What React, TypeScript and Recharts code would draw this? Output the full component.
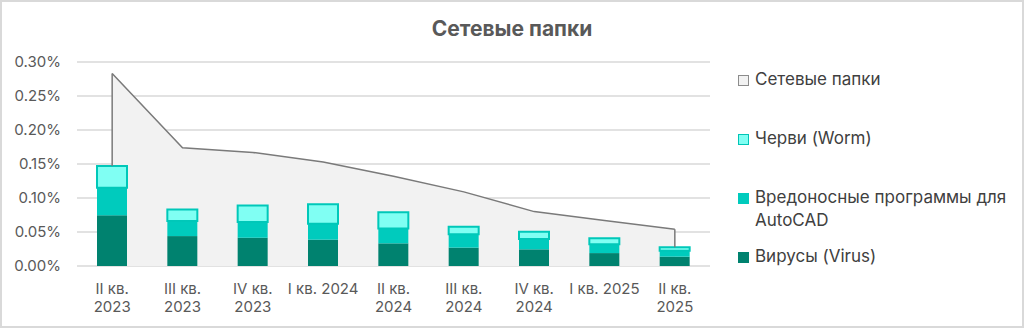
import * as React from "react";
import {
  Area,
  Bar,
  CartesianGrid,
  ComposedChart,
  ReferenceLine,
  XAxis,
  YAxis
} from "recharts";

const quarters = [
  "II кв.\n2023",
  "III кв.\n2023",
  "IV кв.\n2023",
  "I кв. 2024",
  "II кв.\n2024",
  "III кв.\n2024",
  "IV кв.\n2024",
  "I кв. 2025",
  "II кв.\n2025"
];
// values in percent
const networkFolders = [0.283, 0.174, 0.167, 0.153, 0.132, 0.109, 0.08, 0.067, 0.054];
const viruses = [0.0745, 0.044, 0.0417, 0.0387, 0.0333, 0.027, 0.0245, 0.019, 0.0137];
const autocad = [0.0406, 0.022, 0.023, 0.0235, 0.022, 0.0197, 0.0152, 0.0129, 0.0088];
const worms = [0.032, 0.017, 0.0243, 0.0285, 0.0236, 0.0112, 0.0108, 0.0088, 0.005];
const yTicks = [0, 0.05, 0.1, 0.15, 0.2, 0.25, 0.3];

const legendItems = [
  { name: "Сетевые папки", fill: "#f2f2f2", border: "#8c8c8c" },
  { name: "Черви (Worm)", fill: "#80fff3", border: "#00c5b6" },
  { name: "Вредоносные программы для AutoCAD", fill: "#00cbbd", border: "#00cbbd" },
  { name: "Вирусы (Virus)", fill: "#00826f", border: "#00826f" }
];

const font = "Inter, 'Noto Sans', sans-serif";

const data = quarters.map((quarter, i) => ({
  quarter,
  network: networkFolders[i],
  virus: viruses[i],
  autocad: autocad[i],
  worm: worms[i]
}));

const stackTop = (i: number) => viruses[i] + autocad[i] + worms[i];
const last = quarters.length - 1;

function QuarterTick({ x, y, payload }: any) {
  const lines = String(payload.value).split("\n");
  return (
    <text x={x} y={y} textAnchor="middle" fill="#595959" fontSize={15} fontFamily={font}>
      {lines.map((line, i) => (
        <tspan key={i} x={x} dy={i === 0 ? 16 : 18}>
          {line}
        </tspan>
      ))}
    </text>
  );
}

function SideLegend() {
  return (
    <div
      style={{
        position: "absolute",
        left: 738,
        top: 68,
        fontFamily: font,
        fontSize: 17,
        color: "#404040",
        lineHeight: "23px"
      }}
    >
      {legendItems.map((item) => (
        <div key={item.name} style={{ display: "flex", alignItems: "flex-start", height: 59 }}>
          <span
            style={{
              width: 9,
              height: 9,
              marginTop: 7,
              marginRight: 6,
              flex: "none",
              background: item.fill,
              border: `1px solid ${item.border}`
            }}
          />
          <span style={{ width: 268 }}>{item.name}</span>
        </div>
      ))}
    </div>
  );
}

export default function App() {
  return (
    <div
      style={{
        position: "fixed",
        left: 0,
        top: 0,
        width: 1024,
        height: 328,
        background: "#fff",
        fontFamily: font
      }}
    >
      <div
        style={{
          position: "absolute",
          left: 0,
          top: 16,
          width: 1024,
          textAlign: "center",
          fontSize: 21,
          fontWeight: 700,
          color: "#595959"
        }}
      >
        Сетевые папки
      </div>
      <ComposedChart
        width={1024}
        height={328}
        data={data}
        margin={{ top: 62, right: 314, bottom: 0, left: 0 }}
        style={{ position: "absolute", left: 0, top: 0 }}
      >
        <CartesianGrid vertical={false} stroke="#d9d9d9" strokeWidth={1.5} />
        <XAxis
          dataKey="quarter"
          axisLine={false}
          tickLine={false}
          tickSize={0}
          tickMargin={12}
          height={62}
          interval={0}
          tick={<QuarterTick />}
        />
        <YAxis
          width={77}
          domain={[0, 0.3]}
          ticks={yTicks}
          axisLine={false}
          tickLine={false}
          tickSize={0}
          tickMargin={16}
          tick={{ fill: "#595959", fontSize: 15, fontFamily: font }}
          tickFormatter={(v: number) => `${v.toFixed(2)}%`}
        />
        <Area
          type="linear"
          dataKey="network"
          fill="#f2f2f2"
          fillOpacity={1}
          stroke="#7a7a7a"
          strokeWidth={1.5}
          dot={false}
          activeDot={false}
          isAnimationActive={false}
        />
        <ReferenceLine
          segment={[
            { x: quarters[0], y: stackTop(0) },
            { x: quarters[0], y: networkFolders[0] }
          ]}
          stroke="#7a7a7a"
          strokeWidth={1.5}
        />
        <ReferenceLine
          segment={[
            { x: quarters[last], y: stackTop(last) },
            { x: quarters[last], y: networkFolders[last] }
          ]}
          stroke="#7a7a7a"
          strokeWidth={1.5}
        />
        <Bar dataKey="virus" stackId="s" fill="#00826f" barSize={30} isAnimationActive={false} />
        <Bar dataKey="autocad" stackId="s" fill="#00cbbd" barSize={30} isAnimationActive={false} />
        <Bar
          dataKey="worm"
          stackId="s"
          fill="#80fff3"
          stroke="#00c8b9"
          strokeWidth={2}
          barSize={30}
          isAnimationActive={false}
        />
      </ComposedChart>
      <SideLegend />
      <div
        style={{
          position: "absolute",
          inset: 0,
          border: "2px solid #d9d9d9",
          boxSizing: "border-box",
          pointerEvents: "none"
        }}
      />
    </div>
  );
}
